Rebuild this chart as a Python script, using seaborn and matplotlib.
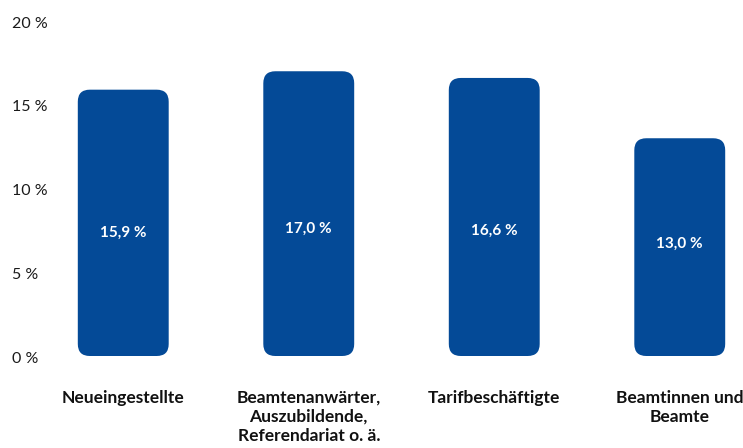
import matplotlib
matplotlib.use("Agg")
import matplotlib.pyplot as plt
from matplotlib.patches import FancyBboxPatch
from matplotlib import transforms
import seaborn as sns
import pandas as pd

categories = [
    "Neueingestellte",
    "Beamtenanwärter,\nAuszubildende,\nReferendariat o. ä.",
    "Tarifbeschäftigte",
    "Beamtinnen und\nBeamte",
]
values = [15.9, 17.0, 16.6, 13.0]
value_labels = ["15,9 %", "17,0 %", "16,6 %", "13,0 %"]
y_ticks = [0, 5, 10, 15, 20]
y_tick_labels = ["0 %", "5 %", "10 %", "15 %", "20 %"]

BAR_COLOR = "#044a97"
FONT = ["Lato", "DejaVu Sans"]

sns.set_theme(style="white")
plt.rcParams["font.family"] = FONT

W, H, DPI = 743, 448, 100
fig = plt.figure(figsize=(W / DPI, H / DPI), dpi=DPI)
fig.patch.set_facecolor("white")

ax_left_px, ax_bottom_px = 50, 356
ax = fig.add_axes([ax_left_px / W, (H - ax_bottom_px) / H,
                   (W - ax_left_px) / W, ax_bottom_px / H])

df = pd.DataFrame({"category": categories, "value": values})
sns.barplot(data=df, x="category", y="value", color=BAR_COLOR,
            saturation=1, width=0.49, ax=ax)

px_per_x = 185.5
first_center_px = 123.25
px_per_y = 16.75
ax.set_xlim(-(first_center_px - ax_left_px) / px_per_x,
            (W - first_center_px) / px_per_x)
ax.set_ylim(0, ax_bottom_px / px_per_y)

# swap the plain rectangles for rounded ones
radius_px = 12
aspect = px_per_x / px_per_y
for p in list(ax.patches):
    x0, y0 = p.get_x(), p.get_y()
    w, h = p.get_width(), p.get_height()
    p.remove()
    ax.add_patch(FancyBboxPatch(
        (x0, y0), w, h,
        boxstyle=f"round,pad=0,rounding_size={radius_px / px_per_x}",
        mutation_aspect=aspect, facecolor=BAR_COLOR, edgecolor="none",
        clip_on=False))

# value labels sit a little below the middle of each bar
for i, (v, lab) in enumerate(zip(values, value_labels)):
    ax.text(i, 0.22 * v + 3.85, lab, ha="center", va="center", color="white",
            fontsize=11, fontweight="bold", family=FONT)

ax.set_yticks(y_ticks)
ax.set_yticklabels(y_tick_labels, fontsize=11.5, color="#1a1a1a")
ax.tick_params(axis="y", length=0, pad=38 * 72 / DPI)
shift = transforms.ScaledTranslation(0, -1 / DPI, fig.dpi_scale_trans)
for t in ax.get_yticklabels():
    t.set_horizontalalignment("left")
    t.set_transform(t.get_transform() + shift)

ax.set_xticks(range(len(categories)))
ax.set_xticklabels(categories, fontsize=12.5, fontweight="bold", color="#111111",
                   linespacing=1.22, va="top")
ax.tick_params(axis="x", length=0, pad=34 * 72 / DPI)

ax.set_xlabel("")
ax.set_ylabel("")
for s in ax.spines.values():
    s.set_visible(False)
ax.grid(False)
ax.set_facecolor("white")

fig.savefig("out.png", dpi=DPI, facecolor="white")
